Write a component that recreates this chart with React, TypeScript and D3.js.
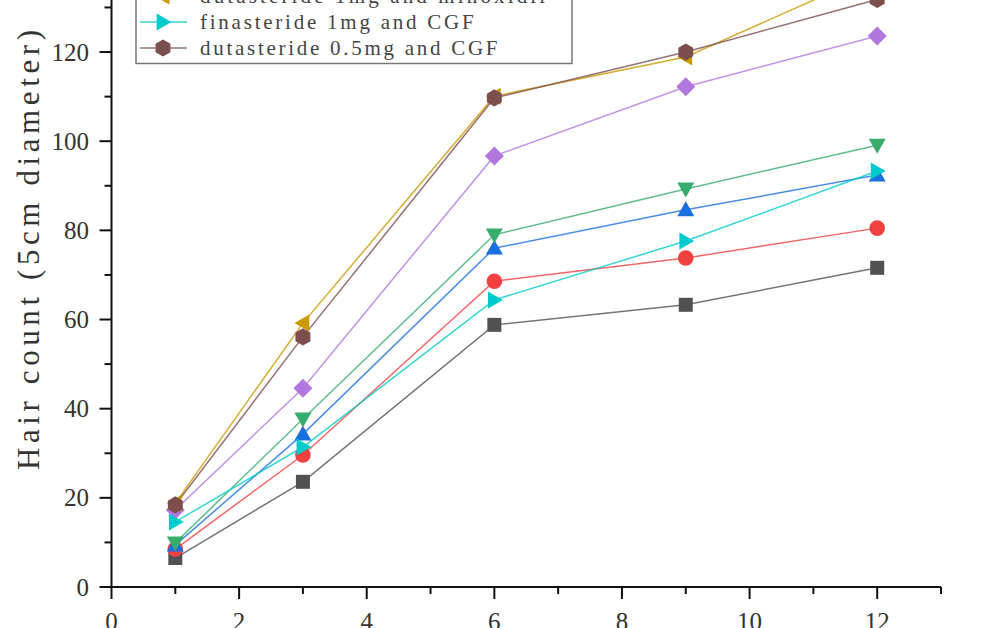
import React from "react";
import * as d3 from "d3";

const months = [1, 3, 6, 9, 12];
const seriesA = [6.5, 23.6, 58.8, 63.3, 71.6];
const seriesB = [8.5, 29.6, 68.6, 73.8, 80.5];
const seriesC = [9.4, 34.3, 76.0, 84.6, 92.4];
const seriesD = [9.9, 37.7, 79.0, 89.3, 99.1];
const seriesE = [17.3, 44.6, 96.7, 112.2, 123.6];
const seriesF = [18.8, 59.2, 110.1, 118.9, 138.0];
const seriesG = [14.6, 31.4, 64.4, 77.6, 93.3];
const seriesH = [18.4, 56.1, 109.7, 120.0, 131.8];

const legendNames = [
  "dutasteride 1mg and minoxidil",
  "finasteride 1mg and CGF",
  "dutasteride 0.5mg and CGF",
];

const xTicks = [0, 2, 4, 6, 8, 10, 12];
const yTicks = [0, 20, 40, 60, 80, 100, 120, 140];
const yLabel = "Hair count (5cm diameter)";

type Sym = "square" | "circle" | "up" | "down" | "diamond" | "left" | "right" | "hex";

const series: { values: number[]; color: string; sym: Sym }[] = [
  { values: seriesA, color: "#515151", sym: "square" },
  { values: seriesB, color: "#F14040", sym: "circle" },
  { values: seriesC, color: "#1A6FDF", sym: "up" },
  { values: seriesD, color: "#37AD6B", sym: "down" },
  { values: seriesE, color: "#B177DE", sym: "diamond" },
  { values: seriesF, color: "#CC9900", sym: "left" },
  { values: seriesG, color: "#00CBCC", sym: "right" },
  { values: seriesH, color: "#7D4E4E", sym: "hex" },
];

function symbolPath(sym: Sym): string {
  const t = 8.5;
  switch (sym) {
    case "square":
      return "M-7,-7H7V7H-7Z";
    case "circle":
      return d3.symbol(d3.symbolCircle, Math.PI * 7.8 * 7.8)()!;
    case "up":
      return `M0,${-t}L${t},${t * 0.75}L${-t},${t * 0.75}Z`;
    case "down":
      return `M0,${t}L${t},${-t * 0.75}L${-t},${-t * 0.75}Z`;
    case "left":
      return `M${-t},0L${t * 0.75},${-t}L${t * 0.75},${t}Z`;
    case "right":
      return `M${t},0L${-t * 0.75},${-t}L${-t * 0.75},${t}Z`;
    case "diamond":
      return "M0,-9.5L9.5,0L0,9.5L-9.5,0Z";
    case "hex": {
      const r = 8.6;
      const pts = d3.range(6).map((i) => {
        const a = (Math.PI / 3) * i - Math.PI / 2;
        return [r * Math.cos(a), r * Math.sin(a)];
      });
      return "M" + pts.map((p) => p.join(",")).join("L") + "Z";
    }
  }
}

export default function App() {
  const W = 1005;
  const H = 628;
  const x = d3.scaleLinear().domain([0, 13]).range([111.5, 941]);
  const y = d3.scaleLinear().domain([0, 140]).range([587, 587 - 140 * 4.458]);
  const line = d3
    .line<number>()
    .x((_, i) => x(months[i]))
    .y((d) => y(d));

  const xMinor = d3.range(1, 14, 2);
  const yMinor = d3.range(10, 150, 20);
  const axisColor = "#111";
  const serif = "'Liberation Serif', 'Times New Roman', serif";

  const legendSeries = series.slice(5);
  const legendRowY = [-4, 22, 48];

  return (
    <svg
      width={W}
      height={H}
      style={{ position: "absolute", left: 0, top: 0, background: "#fff" }}
    >
      <rect x={0} y={0} width={W} height={H} fill="#fff" />
      {/* series lines */}
      {series.map((s, i) => (
        <path
          key={"l" + i}
          d={line(s.values)!}
          fill="none"
          stroke={s.color}
          strokeWidth={1.5}
          strokeOpacity={0.8}
        />
      ))}
      {/* markers */}
      {series.map((s, i) => (
        <g key={"m" + i}>
          {s.values.map((v, j) => (
            <path
              key={j}
              d={symbolPath(s.sym)}
              transform={`translate(${x(months[j])},${y(v)})`}
              fill={s.color}
            />
          ))}
        </g>
      ))}

      {/* axes */}
      <line x1={x(0)} x2={x(13)} y1={y(0)} y2={y(0)} stroke={axisColor} strokeWidth={2} />
      <line x1={x(0)} x2={x(0)} y1={y(0)} y2={y(140)} stroke={axisColor} strokeWidth={2} />
      {xTicks.map((t) => (
        <g key={"xt" + t}>
          <line x1={x(t)} x2={x(t)} y1={y(0)} y2={y(0) + 12} stroke={axisColor} strokeWidth={2} />
          <text
            x={x(t)}
            y={630}
            textAnchor="middle"
            fontFamily={serif}
            fontSize={25}
            fill="#333"
          >
            {t}
          </text>
        </g>
      ))}
      {xMinor.map((t) => (
        <line key={"xm" + t} x1={x(t)} x2={x(t)} y1={y(0)} y2={y(0) + 7} stroke={axisColor} strokeWidth={2} />
      ))}
      {yTicks.map((t) => (
        <g key={"yt" + t}>
          <line x1={x(0) - 12} x2={x(0)} y1={y(t)} y2={y(t)} stroke={axisColor} strokeWidth={2} />
          <text
            x={89}
            y={y(t) + 8.5}
            textAnchor="end"
            fontFamily={serif}
            fontSize={25}
            fill="#333"
          >
            {t}
          </text>
        </g>
      ))}
      {yMinor.map((t) => (
        <line key={"ym" + t} x1={x(0) - 7} x2={x(0)} y1={y(t)} y2={y(t)} stroke={axisColor} strokeWidth={2} />
      ))}

      {/* y label */}
      <text
        transform="translate(39,250) rotate(-90)"
        textAnchor="middle"
        fontFamily={serif}
        fontSize={31}
        fill="#333"
        textLength={440}
        lengthAdjust="spacing"
      >
        {yLabel}
      </text>

      {/* legend */}
      <rect x={136} y={-300} width={436} height={363.5} fill="#fff" stroke="#777" strokeWidth={1.5} />
      {legendSeries.map((s, i) => (
        <g key={"lg" + i} transform={`translate(0,${legendRowY[i]})`}>
          <line x1={140} x2={187} y1={0} y2={0} stroke={s.color} strokeWidth={1.5} strokeOpacity={0.8} />
          <path d={symbolPath(s.sym)} transform="translate(163,0)" fill={s.color} />
          <text
            x={200}
            y={7}
            fontFamily={serif}
            fontSize={21}
            fill="#444"
            textLength={legendNames[i].length * 11.9}
            lengthAdjust="spacing"
          >
            {legendNames[i]}
          </text>
        </g>
      ))}
    </svg>
  );
}
